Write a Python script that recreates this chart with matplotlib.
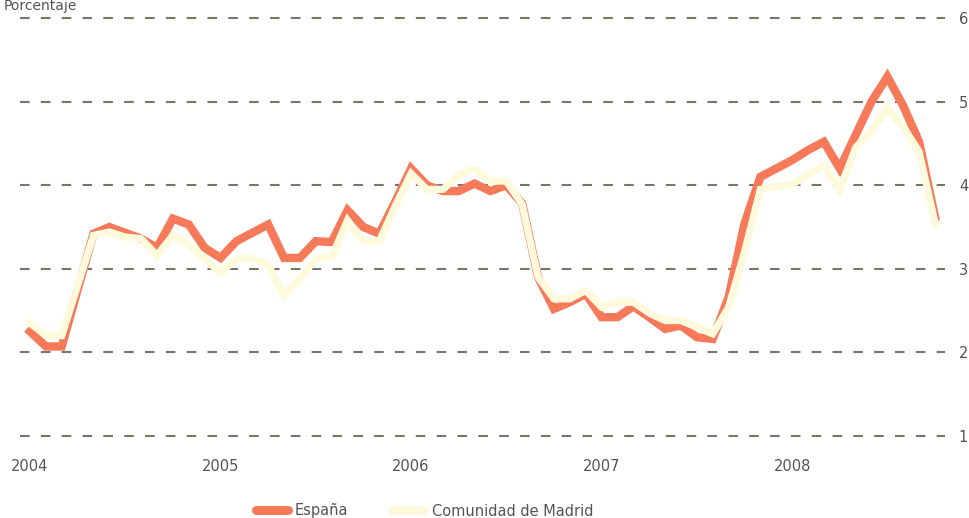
import matplotlib
matplotlib.use("Agg")
import matplotlib.pyplot as plt
import matplotlib.lines as mlines

# monthly values, Jan 2004 .. Oct 2008 (%)
espana = [
    2.25, 2.07, 2.07, 2.75, 3.42, 3.50, 3.43, 3.36, 3.25, 3.60, 3.53, 3.25,
    3.13, 3.33, 3.43, 3.53, 3.13, 3.13, 3.33, 3.32, 3.70, 3.50, 3.42, 3.80,
    4.20, 4.00, 3.93, 3.93, 4.02, 3.93, 4.00, 3.78, 2.90, 2.52, 2.60, 2.70,
    2.42, 2.42, 2.55, 2.42, 2.28, 2.32, 2.18, 2.16, 2.66, 3.54, 4.10, 4.20,
    4.30, 4.42, 4.52, 4.20, 4.60, 5.00, 5.30, 4.95, 4.52, 3.62,
]
madrid = [
    2.35, 2.20, 2.20, 2.80, 3.40, 3.44, 3.38, 3.36, 3.16, 3.40, 3.30, 3.12,
    2.95, 3.12, 3.12, 3.05, 2.68, 2.88, 3.12, 3.14, 3.58, 3.33, 3.33, 3.75,
    4.14, 3.95, 3.95, 4.12, 4.20, 4.05, 4.05, 3.77, 2.90, 2.64, 2.64, 2.74,
    2.54, 2.60, 2.60, 2.47, 2.38, 2.38, 2.30, 2.22, 2.54, 3.20, 3.95, 3.98,
    4.01, 4.12, 4.24, 3.94, 4.45, 4.65, 4.93, 4.70, 4.40, 3.55,
]
years = ["2004", "2005", "2006", "2007", "2008"]
y_ticks = [1, 2, 3, 4, 5, 6]

COL_ES = "#f6795a"
COL_MAD = "#fefadb"
COL_GRID = "#76766a"
COL_TEXT = "#555555"

months = list(range(len(espana)))

fig = plt.figure(figsize=(9.69, 5.18), dpi=100)
ax = fig.add_axes([20 / 969, 78 / 518, 925 / 969, 426 / 518])

for v in y_ticks:
    ax.axhline(v, color=COL_GRID, linewidth=1.5, linestyle=(0, (4.6, 5.4)), zorder=1)

ax.plot(months, espana, color=COL_ES, linewidth=6.0, solid_joinstyle="miter", zorder=3)
ax.plot(months, madrid, color=COL_MAD, linewidth=5.2, solid_joinstyle="miter", zorder=4)

ax.set_xlim(-0.63, 57.63)
ax.set_ylim(0.95, 6.05)

ax.yaxis.tick_right()
ax.set_yticks(y_ticks)
ax.set_yticklabels([str(v) for v in y_ticks])
ax.set_xticks([0, 12, 24, 36, 48])
ax.set_xticklabels(years)
ax.tick_params(axis="y", length=0, pad=10, labelsize=10.5, labelcolor=COL_TEXT)
ax.tick_params(axis="x", length=0, pad=14, labelsize=10.5, labelcolor=COL_TEXT)
for side in ax.spines.values():
    side.set_visible(False)
ax.set_facecolor("none")

fig.text(0.004, 1 - 10 / 518, "Porcentaje", fontsize=10, color=COL_TEXT, va="baseline")

handles = [
    mlines.Line2D([], [], color=COL_ES, linewidth=6.5, solid_capstyle="round", label="España"),
    mlines.Line2D([], [], color=COL_MAD, linewidth=6.5, solid_capstyle="round", label="Comunidad de Madrid"),
]
fig.legend(
    handles=handles,
    loc="center",
    bbox_to_anchor=(0.438, 7 / 518),
    ncol=2,
    frameon=False,
    fontsize=10.5,
    labelcolor=COL_TEXT,
    handlelength=2.2,
    handletextpad=0.5,
    columnspacing=3.0,
)

fig.savefig("out.png", dpi=100)
